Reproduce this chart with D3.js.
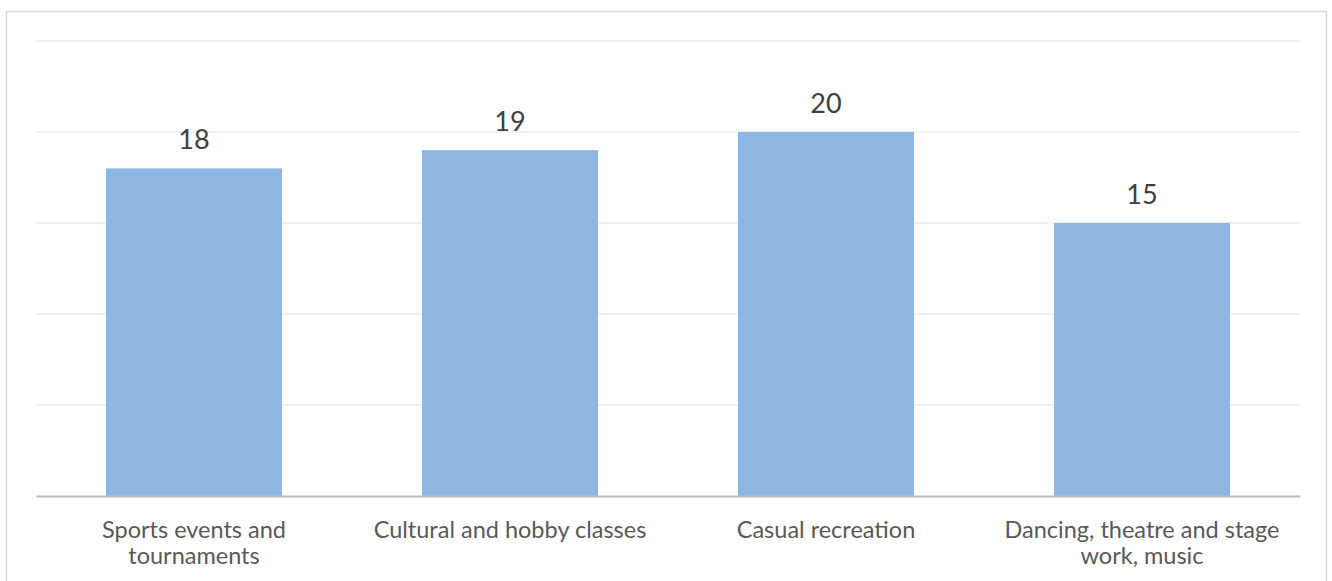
<!DOCTYPE html>
<html>
<head>
<meta charset="utf-8">
<script src="https://cdn.jsdelivr.net/npm/d3@7"></script>
<style>
  html, body { margin: 0; padding: 0; background: #fff; }
  svg { display: block; }
</style>
</head>
<body>
<svg id="chart" width="1332" height="581"></svg>
<script>
// Activity categories (line breaks mark where the axis label wraps)
const categories = [
  "Sports events and\ntournaments",
  "Cultural and hobby classes",
  "Casual recreation",
  "Dancing, theatre and stage\nwork, music"
];
const values = [18, 19, 20, 15];
const gridTicks = [0, 5, 10, 15, 20, 25];

const W = 1332, H = 581;
const margin = { top: 41, right: 32, bottom: 85, left: 36 };
const svg = d3.select("#chart");

// Outer chart frame (runs past the bottom edge)
svg.append("rect")
  .attr("x", 6.5).attr("y", 11.5)
  .attr("width", 1320).attr("height", 600)
  .attr("fill", "#fff")
  .attr("stroke", "#d9d9d9").attr("stroke-width", 1.5);

const x = d3.scaleBand()
  .domain(categories)
  .range([margin.left, W - margin.right])
  .paddingInner(0.443)
  .paddingOuter(0.2215);

const y = d3.scaleLinear()
  .domain([0, 25])
  .range([H - margin.bottom, margin.top]);

// Horizontal gridlines
svg.append("g")
  .selectAll("line")
  .data(gridTicks.filter(t => t > 0))
  .join("line")
  .attr("x1", margin.left).attr("x2", W - margin.right)
  .attr("y1", d => y(d)).attr("y2", d => y(d))
  .attr("stroke", "#ececec").attr("stroke-width", 1.5);

// Bars
svg.append("g")
  .selectAll("rect")
  .data(values)
  .join("rect")
  .attr("x", (d, i) => x(categories[i]))
  .attr("width", x.bandwidth())
  .attr("y", d => y(d))
  .attr("height", d => y(0) - y(d))
  .attr("fill", "#8db7e1");

// Category axis baseline
const xAxis = svg.append("g")
  .attr("transform", `translate(0,${y(0)})`)
  .call(d3.axisBottom(x).tickSize(0).tickFormat(""));
xAxis.select(".domain").attr("stroke", "#bfbfbf").attr("stroke-width", 2.2);

// Category labels, wrapped across lines
const labels = svg.append("g")
  .attr("font-family", "Lato, 'Open Sans', sans-serif")
  .attr("font-size", 23.5)
  .attr("fill", "#595959")
  .attr("text-anchor", "middle");
categories.forEach(c => {
  const t = labels.append("text")
    .attr("x", x(c) + x.bandwidth() / 2)
    .attr("y", y(0) + 41.5);
  c.split("\n").forEach((line, li) => {
    t.append("tspan")
      .attr("x", x(c) + x.bandwidth() / 2)
      .attr("dy", li === 0 ? 0 : 26.5)
      .text(line);
  });
});

// Value labels above bars
svg.append("g")
  .selectAll("text")
  .data(values)
  .join("text")
  .attr("x", (d, i) => x(categories[i]) + x.bandwidth() / 2)
  .attr("y", d => y(d) - 19.5)
  .attr("text-anchor", "middle")
  .attr("font-family", "Lato, 'Open Sans', sans-serif")
  .attr("font-size", 27)
  .attr("fill", "#404040")
  .text(d => d);
</script>
</body>
</html>
